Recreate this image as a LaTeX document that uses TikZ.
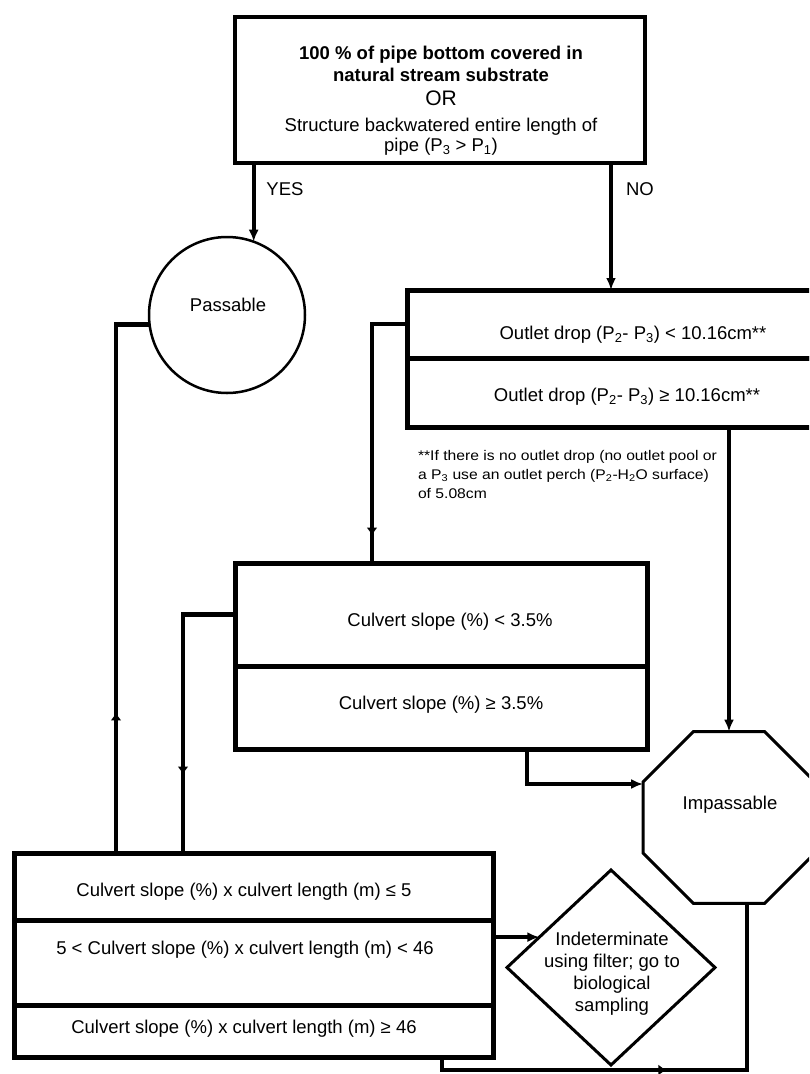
\documentclass[tikz,border=0pt]{standalone}
\usepackage{fontspec}
\setmainfont{Liberation Sans}
\newfontfamily\notefont{Liberation Sans}[FakeStretch=1.12]
\usetikzlibrary{shapes.geometric,arrows.meta,decorations.markings}
\begin{document}
\begin{tikzpicture}[x=1pt,y=-1pt,
  every node/.style={inner sep=0pt, outer sep=0pt,
    font=\fontsize{18.5}{22}\selectfont},
  rowbox/.style={draw, rectangle, line width=5pt},
  txt/.style={anchor=base},
  conn/.style={line width=4.5pt},
  tip/.style={-{Latex[length=12pt,width=10pt]}},
  midarrow/.style={postaction={decorate},
    decoration={markings, mark=at position #1 with
      {\arrow{Latex[length=8pt,width=11pt]}}}}
]
\useasboundingbox (0,0) rectangle (809,1074);
\clip (0,0) rectangle (809,1074);
\fill[white] (0,0) rectangle (809,1074);

% ---- decision boxes ----
\node[rowbox, line width=4.5pt, minimum width=410, minimum height=146] (top) at (440,90) {};
\node[txt] (t1) at (441,59.5) {\bfseries 100 \% of pipe bottom covered in};
\node[txt] (t2) at (441,81.5) {\bfseries natural stream substrate};
\node[txt, font=\fontsize{21}{24}\selectfont] (t3) at (441,105.5) {OR};
\node[txt] (t4) at (441,131.5) {Structure backwatered entire length of};
\node[txt] (t5) at (441,151.5) {pipe (P\textsubscript{3} > P\textsubscript{1})};

\node[rowbox, minimum width=446, minimum height=68] (out1) at (630,324) {};
\node[rowbox, minimum width=446, minimum height=69] (out2) at (630,392.5) {};
\node[txt] (o1) at (633,339.5) {Outlet drop (P\textsubscript{2}- P\textsubscript{3}) < 10.16cm**};
\node[txt] (o2) at (627,401.5) {Outlet drop (P\textsubscript{2}- P\textsubscript{3}) ≥ 10.16cm**};

\node[anchor=north west, align=left, font=\notefont\fontsize{14}{19}\selectfont] (note) at (418,450)
  {**If there is no outlet drop (no outlet pool or\\
   a P\textsubscript{3} use an outlet perch (P\textsubscript{2}-H\textsubscript{2}O surface)\\
   of 5.08cm};

\node[rowbox, minimum width=412, minimum height=103] (cul1) at (441,614.5) {};
\node[rowbox, minimum width=412, minimum height=83] (cul2) at (441,707.5) {};
\node[txt] (c1) at (450,626.5) {Culvert slope (\%) < 3.5\%};
\node[txt] (c2) at (441,709.5) {Culvert slope (\%) ≥ 3.5\%};

\node[rowbox, minimum width=479, minimum height=67] (bot1) at (253.5,886.5) {};
\node[rowbox, minimum width=479, minimum height=85] (bot2) at (253.5,962.5) {};
\node[rowbox, minimum width=479, minimum height=52] (bot3) at (253.5,1031) {};
\node[txt] (b1) at (244,896.5) {Culvert slope (\%) x culvert length (m) ≤ 5};
\node[txt] (b2) at (245,954.5) {5 < Culvert slope (\%) x culvert length (m) < 46};
\node[txt] (b3) at (244,1033.5) {Culvert slope (\%) x culvert length (m) ≥ 46};

% ---- outcomes ----
\node[circle, draw, line width=2.5pt, minimum size=156] (pass) at (227,315) {};
\node[txt] (passtxt) at (228,311.5) {Passable};

\node[regular polygon, regular polygon sides=8, draw, line width=3pt,
      minimum size=186] (imp) at (729,817.5) {};
\node[txt] (imptxt) at (730,809.5) {Impassable};

\node[diamond, draw, line width=3pt, minimum width=208, minimum height=195] (ind) at (611,967.5) {};
\node[anchor=north, align=center, font=\fontsize{18.5}{22}\selectfont] (indtxt) at (612,932)
  {Indeterminate\\using filter; go to\\biological\\sampling};

% ---- answer labels ----
\node[txt] (yes) at (285,195.5) {YES};
\node[txt] (no) at (640,195.5) {NO};

% ---- connector columns ----
\coordinate (xno) at (611,0);
\coordinate (x116) at (116,0);
\coordinate (x183) at (183,0);
\coordinate (x372) at (372,0);
\coordinate (x527) at (527,0);
\coordinate (x442) at (442,0);
\coordinate (x747) at (747,0);
\coordinate (y784) at (0,784);
\coordinate (y1070) at (0,1070);

% ---- connectors ----
\draw[conn, line width=4pt, tip] (top.south -| pass.70.5) -- (pass.70.5);
\draw[conn, line width=4pt, tip] (top.south -| xno) -- (out1.north -| xno);
\draw[conn, midarrow=0.9] (out1.west) -| (cul1.north -| x372);
\draw[conn, tip] (out2.south -| imp.north) -- (imp.north);
\draw[conn, midarrow=0.25] (bot1.north -| x116) |- (pass.187.4);
\draw[conn, midarrow=0.73] (cul1.west) -| (bot1.north -| x183);
\draw[conn, tip] (cul2.south -| x527) |- (imp.west |- y784);
\draw[conn, tip] (bot2.east |- ind.157.4) -- (ind.157.4);
\draw[conn, midarrow=0.49] (bot3.south -| x442) -- (x442 |- y1070) -| (imp.south -| x747);
\end{tikzpicture}
\end{document}
